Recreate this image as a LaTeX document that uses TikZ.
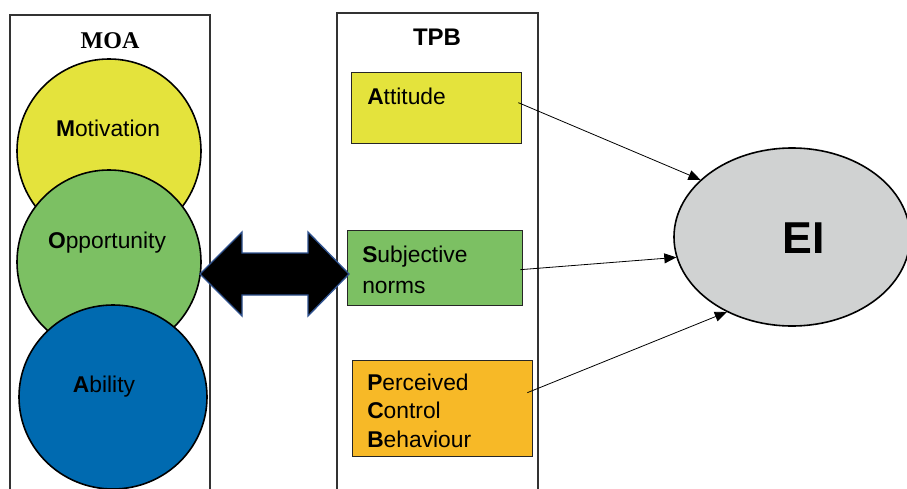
\documentclass[tikz,border=0pt]{standalone}
\usepackage{fontspec}
\setmainfont{Liberation Serif}
\setsansfont{Liberation Sans}
\usetikzlibrary{arrows.meta,calc,shapes.geometric}
\definecolor{moaYellow}{RGB}{228,227,60}
\definecolor{moaGreen}{RGB}{124,192,99}
\definecolor{moaBlue}{RGB}{0,106,176}
\definecolor{pcbOrange}{RGB}{247,185,39}
\definecolor{eiGray}{RGB}{208,210,210}
\definecolor{arrowBlue}{RGB}{47,82,143}
\begin{document}
\begin{tikzpicture}[x=0.75pt,y=-0.75pt,
  frame/.style={draw=black!80,line width=0.8pt},
  bubble/.style={circle,draw=black,line width=1.2pt,minimum size=138pt,inner sep=0},
  factor/.style={rectangle,draw=black!85,line width=1pt,anchor=north west,inner sep=0},
  lbl/.style={font=\sffamily\fontsize{17.1pt}{20pt}\selectfont,inner sep=0},
  title/.style={font=\bfseries\fontsize{18pt}{20pt}\selectfont,inner sep=0,anchor=base},
  link/.style={-{Triangle[length=9pt,width=7.5pt]},line width=0.6pt},
  blockarrow/.style={fill=black,draw=arrowBlue,line width=1pt,line join=miter}
]
\useasboundingbox (0,0) rectangle (907,489);
\fill[white] (0,0) rectangle (907,489);

% MOA column
\draw[frame] (10,500) |- (210,15) -- (210,500);
\node[title,font=\rmfamily\bfseries\fontsize{18pt}{20pt}\selectfont] (moatitle) at (110,48) {MOA};
\node[bubble,fill=moaYellow] (mot) at (109,151) {};
\node[bubble,fill=moaGreen] (opp) at (109,262) {};
\node[ellipse,draw=black,line width=1.2pt,inner sep=0,minimum width=141pt,minimum height=138pt,fill=moaBlue] (abi) at (113,397) {};
\node[lbl,anchor=base] (motlbl) at (108,136) {\textbf{M}otivation};
\node[lbl,anchor=base] (opplbl) at (107,248) {\textbf{O}pportunity};
\node[lbl,anchor=base] (abilbl) at (104,392) {\textbf{A}bility};

% TPB column
\draw[frame] (337,500) |- (538,13) -- (538,500);
\node[title,font=\sffamily\bfseries\fontsize{18pt}{20pt}\selectfont] (tpbtitle) at (437,45) {TPB};
\node[factor,fill=moaYellow,minimum width=127.5pt,minimum height=53.25pt] (att) at (351,72) {};
\node[lbl,anchor=base west] (attlbl) at (367,104) {\textbf{A}ttitude};
\node[factor,fill=moaGreen,minimum width=131.25pt,minimum height=56.25pt] (sub) at (347,230) {};
\node[lbl,anchor=base west] (sublbla) at (362,262) {\textbf{S}ubjective};
\node[lbl,anchor=base west] (sublblb) at (362,293) {norms};
\node[factor,fill=pcbOrange,minimum width=135pt,minimum height=72pt] (pcb) at (352,360) {};
\node[lbl,anchor=base west] (pcblbla) at (367,390) {\textbf{P}erceived};
\node[lbl,anchor=base west] (pcblblb) at (367,418) {\textbf{C}ontrol};
\node[lbl,anchor=base west] (pcblblc) at (367,447) {\textbf{B}ehaviour};

% two-way link between the models
\coordinate (dl) at (200,274);
\coordinate (dr) at (349,274);
\draw[blockarrow] (dl) -- ($(dl)+(42,-42)$) -- ($(dl)+(42,-21)$) -- ($(dr)+(-41,-21)$)
  -- ($(dr)+(-41,-42)$) -- (dr) -- ($(dr)+(-41,42)$) -- ($(dr)+(-41,21)$)
  -- ($(dl)+(42,21)$) -- ($(dl)+(42,42)$) -- cycle;

% outcome
\node[ellipse,draw=black,line width=1.2pt,fill=eiGray,inner sep=0,minimum width=177pt,minimum height=133.5pt] (ei) at (792,237) {};
\node[font=\sffamily\bfseries\fontsize{33.5pt}{36pt}\selectfont,anchor=base,inner sep=0] (eilbl) at (804,253) {EI};

\draw[link] ($(att.east)+(-4,-5.5)$) -- (ei.148);
\draw[link] ($(sub.east)+(-3,1.5)$) -- (ei.190);
\draw[link] ($(pcb.east)+(-6,-16)$) -- (ei.229);
\end{tikzpicture}
\end{document}
